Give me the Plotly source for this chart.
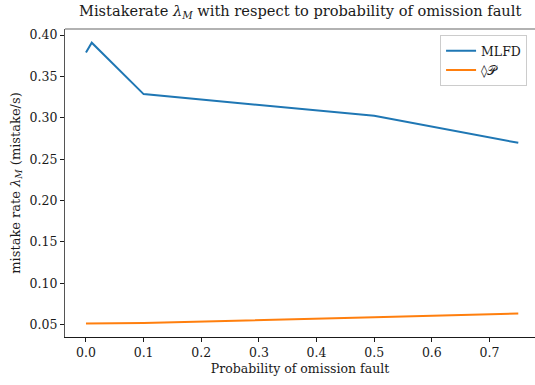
import plotly.graph_objects as go

# Probability of omission fault (x) and measured mistake rates (mistake/s)
p_omission = [0.0, 0.01, 0.1, 0.5, 0.75]
rate_mlfd = [0.379, 0.3907, 0.3286, 0.3024, 0.2697]
rate_diamond_p = [0.0512, 0.0513, 0.0518, 0.0588, 0.0635]

x_ticks = [0.0, 0.1, 0.2, 0.3, 0.4, 0.5, 0.6, 0.7]
y_ticks = [0.05, 0.10, 0.15, 0.20, 0.25, 0.30, 0.35, 0.40]

FONT = "DejaVu Serif"
INK = "#1a1a1a"

fig = go.Figure()
fig.add_trace(go.Scatter(x=p_omission, y=rate_mlfd, mode="lines", name="MLFD",
                         line=dict(color="#1f77b4", width=2)))
fig.add_trace(go.Scatter(x=p_omission, y=rate_diamond_p, mode="lines", name="◊𝒫",
                         line=dict(color="#ff7f0e", width=2)))

fig.update_layout(
    width=535, height=385,
    margin=dict(l=65, r=0, t=29, b=48, pad=0),
    paper_bgcolor="white", plot_bgcolor="white",
    font=dict(family=FONT, size=12, color=INK),
    title=dict(text="Mistakerate <i>λ</i><sub><i>M</i></sub> with respect to probability of omission fault",
               x=0.561, xanchor="center", y=0.984, yanchor="top",
               font=dict(family=FONT, size=14.6, color=INK)),
    legend=dict(x=0.798, y=0.98, xanchor="left", yanchor="top",
                bordercolor="#cccccc", borderwidth=1, bgcolor="white",
                font=dict(family=FONT, size=12.5, color=INK), itemwidth=30,
                tracegroupgap=0),
    showlegend=True,
)

fig.update_xaxes(
    range=[-0.0364, 0.779], tickvals=x_ticks,
    ticktext=[f"{v:.1f}" for v in x_ticks],
    ticks="outside", ticklen=4, tickcolor=INK, tickwidth=1,
    showline=True, linecolor=INK, linewidth=1.2,
    showgrid=False, zeroline=False,
    tickfont=dict(family=FONT, size=12.5, color=INK),
    title=dict(text="Probability of omission fault", standoff=5,
               font=dict(family=FONT, size=12.5, color=INK)),
)
fig.update_yaxes(
    range=[0.035, 0.4073], tickvals=y_ticks,
    ticktext=[f"{v:.2f}" for v in y_ticks],
    ticks="outside", ticklen=4, tickcolor=INK, tickwidth=1,
    showline=True, linecolor="#555", linewidth=1.2,
    showgrid=False, zeroline=False,
    tickfont=dict(family=FONT, size=12.5, color=INK),
    title=dict(text="mistake rate <i>λ</i><sub><i>M</i></sub> (mistake/s)", standoff=6,
               font=dict(family=FONT, size=13, color=INK)),
)

# top frame line of the axes
fig.add_shape(type="line", xref="paper", yref="paper", x0=0, x1=1, y0=1, y1=1,
              line=dict(color="#666", width=1.2))

fig.write_html("out.html")
